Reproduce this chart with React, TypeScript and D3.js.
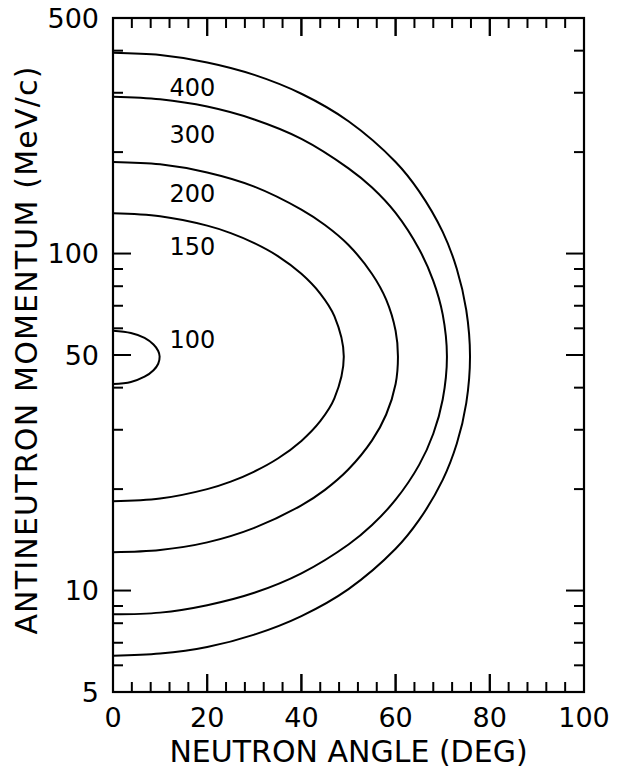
import React from "react";
import * as d3 from "d3";

// ---- data ----
const angles400 = [0, 10, 20, 30, 40, 50, 60, 65, 70, 73, 75];
const upper400 = [394, 388, 369, 339, 298, 247, 187, 153, 116, 90, 68];
const lower400 = [6.4, 6.5, 6.8, 7.4, 8.4, 10.1, 13.3, 16.2, 21.3, 27.3, 36];

const angles300 = [0, 10, 20, 30, 40, 50, 55, 60, 65, 68, 70];
const upper300 = [292, 287, 273, 250, 219, 179, 157, 132, 103, 83, 66];
const lower300 = [8.5, 8.6, 9.05, 9.85, 11.25, 13.7, 15.65, 18.6, 23.6, 29.2, 36.9];

const angles200 = [0, 10, 20, 30, 40, 45, 50, 55, 58, 60];
const upper200 = [187, 184, 174, 158, 135, 121.5, 106, 87, 73, 59];
const lower200 = [13.0, 13.2, 13.9, 15.35, 17.9, 19.9, 22.9, 27.9, 33.3, 41];

const angles150 = [0, 10, 20, 25, 30, 35, 40, 44, 47];
const upper150 = [131.6, 129, 121, 115, 107.4, 98.3, 87.1, 76.1, 65.2];
const lower150 = [18.4, 18.75, 20, 21.05, 22.55, 24.65, 27.8, 31.8, 37.15];

const angles100 = [0, 3.8, 6.7, 8.6, 9.6];
const upper100 = [59, 58.1, 56.2, 53.7, 51.4];
const lower100 = [41, 41.6, 43.1, 45.05, 47.1];

const curveLabels = ["400", "300", "200", "150", "100"];
const tipAngles = [75.8, 70.9, 60.5, 49.0, 9.9];
const tipMomentum = 49.5;
const labelMomentum = [312, 226, 151, 105, 55.8];
const labelAngle = 12;

const xTickLabels = [0, 20, 40, 60, 80, 100];
const yTickLabels = [5, 10, 50, 100, 500];
const yMinorTicks = [6, 7, 8, 9, 20, 30, 40, 60, 70, 80, 90, 200, 300, 400];

const W = 623;
const H = 769;
const L = 113, R = 584, T = 18, B = 692;
const FONT = "'DejaVu Sans', 'Liberation Sans', sans-serif";

function buildCurve(angles: number[], upper: number[], lower: number[], tip: number) {
  const pts: [number, number][] = angles.map((a, i) => [a, upper[i]]);
  pts.push([tip, tipMomentum]);
  for (let i = angles.length - 1; i >= 0; i--) pts.push([angles[i], lower[i]]);
  return pts;
}

export default function App() {
  const x = d3.scaleLinear().domain([0, 100]).range([L, R]);
  const y = d3.scaleLog().domain([5, 500]).range([B, T]);

  const line = d3
    .line<[number, number]>()
    .x((d) => x(d[0]))
    .y((d) => y(d[1]))
    .curve(d3.curveCatmullRom.alpha(0.5));

  const curves = [
    buildCurve(angles400, upper400, lower400, tipAngles[0]),
    buildCurve(angles300, upper300, lower300, tipAngles[1]),
    buildCurve(angles200, upper200, lower200, tipAngles[2]),
    buildCurve(angles150, upper150, lower150, tipAngles[3]),
    buildCurve(angles100, upper100, lower100, tipAngles[4]),
  ];

  const xTicks = d3.range(0, 101, 4).concat(xTickLabels);
  const yTicks = yTickLabels.concat(yMinorTicks);
  const majorY = new Set([10, 50, 100]);

  const tickFs = 27;
  const capT = tickFs * 0.729;

  return (
    <svg
      width={W}
      height={H}
      style={{ position: "absolute", left: 0, top: 0, background: "#fff" }}
    >
      <rect x={0} y={0} width={W} height={H} fill="#fff" />
      {/* ticks */}
      {xTicks.map((t, i) => {
        const major = t % 20 === 0;
        const len = major ? 18 : 10;
        return (
          <g key={"xt" + i}>
            <line x1={x(t)} x2={x(t)} y1={B} y2={B - len} stroke="#000" strokeWidth={2} />
            <line x1={x(t)} x2={x(t)} y1={T} y2={T + len} stroke="#000" strokeWidth={2} />
          </g>
        );
      })}
      {yTicks.map((t, i) => {
        const len = majorY.has(t) ? 18 : 10;
        return (
          <g key={"yt" + i}>
            <line x1={L} x2={L + len} y1={y(t)} y2={y(t)} stroke="#000" strokeWidth={2} />
            <line x1={R} x2={R - len} y1={y(t)} y2={y(t)} stroke="#000" strokeWidth={2} />
          </g>
        );
      })}
      {/* frame */}
      <rect x={L} y={T} width={R - L} height={B - T} fill="none" stroke="#000" strokeWidth={2.2} />
      {/* curves */}
      {curves.map((c, i) => (
        <path key={"c" + i} d={line(c) || ""} fill="none" stroke="#000" strokeWidth={2} />
      ))}
      {/* curve labels */}
      {curveLabels.map((lab, i) => (
        <text
          key={"cl" + i}
          x={x(labelAngle)}
          y={y(labelMomentum[i]) + 24 * 0.729 / 2}
          fontFamily={FONT}
          fontSize={24}
          fill="#000"
        >
          {lab}
        </text>
      ))}
      {/* x tick labels */}
      {xTickLabels.map((t, i) => (
        <text
          key={"xl" + i}
          x={x(t)}
          y={717 + capT / 2}
          textAnchor="middle"
          fontFamily={FONT}
          fontSize={tickFs}
          fill="#000"
        >
          {t}
        </text>
      ))}
      {/* y tick labels */}
      {yTickLabels.map((t, i) => (
        <text
          key={"yl" + i}
          x={99}
          y={y(t) + capT / 2}
          textAnchor="end"
          fontFamily={FONT}
          fontSize={tickFs}
          fill="#000"
        >
          {t}
        </text>
      ))}
      {/* axis titles */}
      <text
        x={(L + R) / 2}
        y={751 + 30 * 0.729 / 2}
        textAnchor="middle"
        fontFamily={FONT}
        fontSize={30}
        fill="#000"
      >
        NEUTRON ANGLE (DEG)
      </text>
      <text
        transform={`translate(${26 + 30 * 0.729 / 2},350) rotate(-90)`}
        textAnchor="middle"
        fontFamily={FONT}
        fontSize={30}
        letterSpacing={1.2}
        fill="#000"
      >
        ANTINEUTRON MOMENTUM (MeV/c)
      </text>
    </svg>
  );
}
